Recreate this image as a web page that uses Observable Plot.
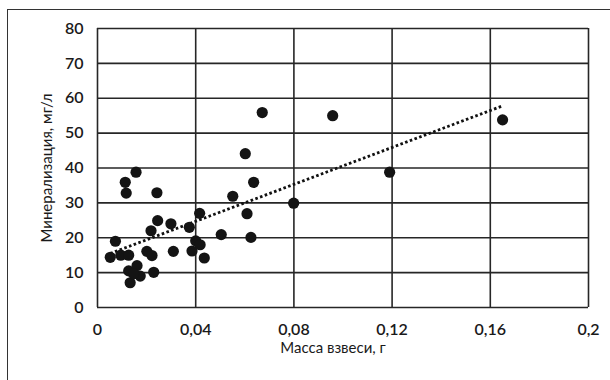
<!DOCTYPE html>
<html>
<head>
<meta charset="utf-8">
<script src="https://cdn.jsdelivr.net/npm/d3@7"></script>
<script src="https://cdn.jsdelivr.net/npm/@observablehq/plot@0.6"></script>
<style>
  html, body { margin: 0; padding: 0; background: #fff; }
  #wrap { position: relative; width: 610px; height: 380px; overflow: hidden; }
  #border { position: absolute; left: 7px; top: 9px; width: 640px; height: 420px; border: 1.5px solid #333; box-sizing: border-box; pointer-events: none; }
  #chart { position: absolute; left: 0; top: 0; }
</style>
</head>
<body>
<div id="wrap"><div id="chart"></div><div id="border"></div></div>
<script>
// Масса взвеси, г
const massX = [0.0052, 0.0073, 0.0095, 0.0127, 0.0113, 0.0117, 0.0157, 0.0127, 0.0161, 0.0174,
               0.0133, 0.0147, 0.0229, 0.0201, 0.0222, 0.0218, 0.0245, 0.0242, 0.0299, 0.0309,
               0.0374, 0.0385, 0.0400, 0.0418, 0.0416, 0.0435, 0.0504, 0.0551, 0.0602, 0.0609,
               0.0625, 0.0636, 0.0671, 0.0799, 0.0958, 0.1190, 0.1650];
// Минерализация, мг/л
const mineralY = [14.4, 19.0, 15.0, 15.0, 35.9, 32.8, 38.8, 10.5, 12.0, 9.0,
                  7.1, 9.7, 10.1, 16.1, 14.9, 22.0, 24.9, 32.9, 24.0, 16.1,
                  23.0, 16.2, 19.1, 18.0, 27.0, 14.2, 20.9, 31.9, 44.1, 26.9,
                  20.1, 35.9, 55.9, 29.9, 55.0, 38.8, 53.8];
const xTicks = [0, 0.04, 0.08, 0.12, 0.16, 0.2];
const yTicks = [0, 10, 20, 30, 40, 50, 60, 70, 80];
const xTitle = "Масса взвеси, г";
const yTitle = "Минерализация, мг/л";

const data = massX.map((x, i) => ({x, y: mineralY[i]}));
const fmt = d => String(d).replace(".", ",");
const gridColor = "#262626";
const font = "Lato, 'Open Sans', 'DejaVu Sans', sans-serif";

const chart = Plot.plot({
  width: 610,
  height: 380,
  marginLeft: 97,
  marginRight: 22,
  marginTop: 28,
  marginBottom: 73,
  style: {fontFamily: font, fontSize: "16px", color: "#1a1a1a", background: "transparent"},
  x: {domain: [0, 0.2], ticks: xTicks, tickFormat: fmt, label: null},
  y: {domain: [0, 80], ticks: yTicks, tickFormat: fmt, label: null},
  marks: [
    Plot.ruleX(xTicks, {stroke: gridColor, strokeWidth: 1.6}),
    Plot.ruleY(yTicks, {stroke: gridColor, strokeWidth: 1.6}),
    Plot.axisX(xTicks, {tickSize: 0, tickPadding: 16, tickFormat: fmt, fontSize: 16, fontWeight: 600, label: null}),
    Plot.axisY(yTicks, {tickSize: 0, tickPadding: 14, tickFormat: fmt, fontSize: 16, fontWeight: 600, label: null}),
    Plot.linearRegressionY(data, {x: "x", y: "y", ci: 0, stroke: "#111", strokeWidth: 2.8, strokeDasharray: "2.6,2.4", strokeLinecap: "butt"}),
    Plot.dot(data, {x: "x", y: "y", r: 5.6, fill: "#141414", stroke: "none"}),
    Plot.text([xTitle], {frameAnchor: "bottom", dy: 45, dx: -10, fontSize: 15, fill: "#1a1a1a"}),
    Plot.text([yTitle], {frameAnchor: "left", textAnchor: "middle", dx: -50, rotate: -90, fontSize: 15, fill: "#1a1a1a"})
  ]
});
document.getElementById("chart").appendChild(chart);
</script>
</body>
</html>
